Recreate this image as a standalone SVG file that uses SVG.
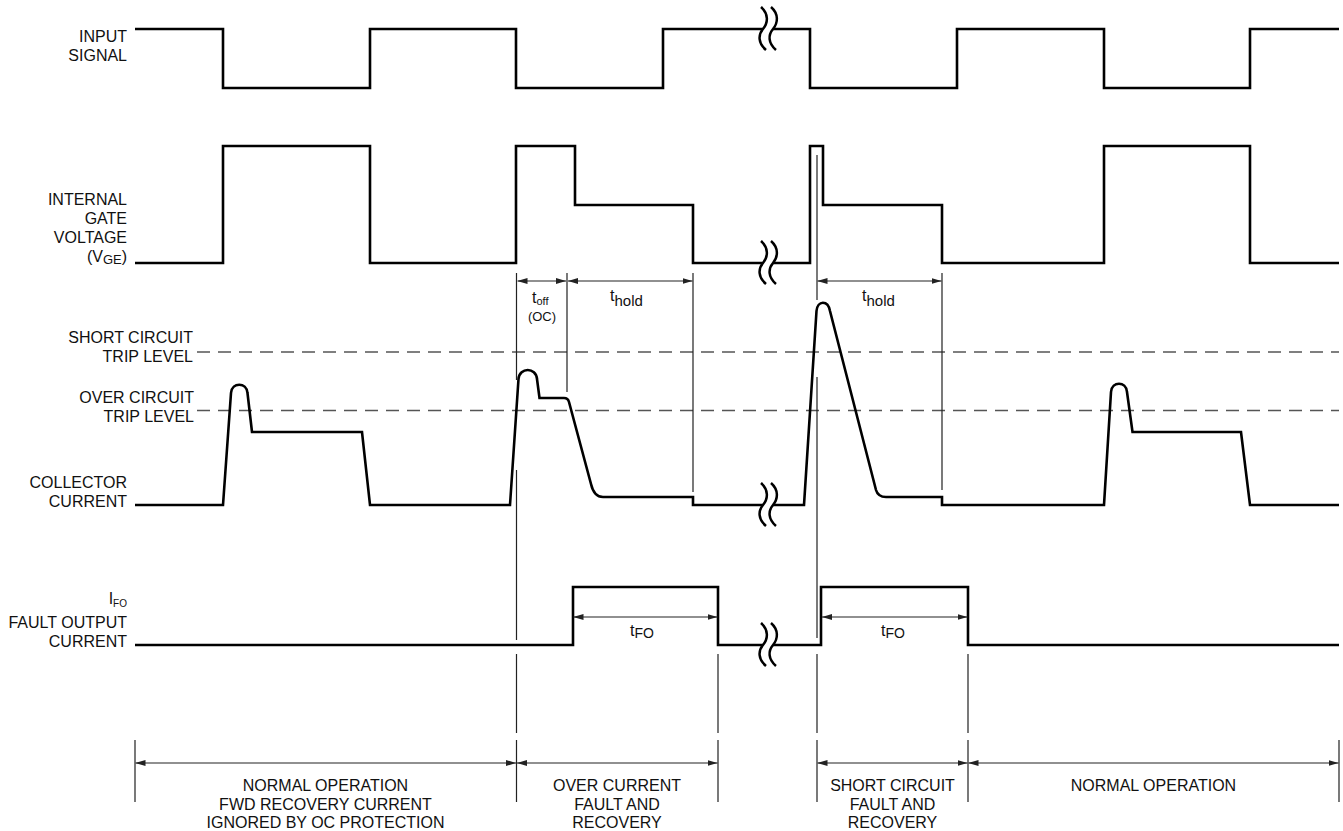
<svg xmlns="http://www.w3.org/2000/svg" width="1343" height="831" viewBox="0 0 1343 831">
<style>
.sig{fill:none;stroke:#000;stroke-width:2.6;stroke-linejoin:miter}
.thin{fill:none;stroke:#222;stroke-width:1.2}
.dash{fill:none;stroke:#555;stroke-width:1.6;stroke-dasharray:13 8}
.dim{fill:none;stroke:#222;stroke-width:1.2;marker-start:url(#ah);marker-end:url(#ah)}
text{font-family:"Liberation Sans",Arial,sans-serif;font-size:16px;fill:#111}
.r{text-anchor:end}
.c{text-anchor:middle}
</style>
<defs>
<marker id="ah" viewBox="0 0 10 6" refX="10" refY="3" markerWidth="10" markerHeight="6" markerUnits="userSpaceOnUse" orient="auto-start-reverse">
<path d="M0,0 L10,3 L0,6 z" fill="#222"/>
</marker>
<g id="brk">
<path d="M-8,-22 C0,-15 -1,-6 -6,0 C-11,6 -11,14 -3,21 L7,21 C-1,14 -1,6 4,0 C9,-6 10,-15 2,-22 Z" fill="#fff" stroke="none"/>
<path d="M-8,-22 C0,-15 -1,-6 -6,0 C-11,6 -11,14 -3,21" fill="none" stroke="#000" stroke-width="2.5"/>
<path d="M2,-22 C10,-15 9,-6 4,0 C-1,6 -1,14 7,21" fill="none" stroke="#000" stroke-width="2.5"/>
</g>
</defs>

<g id="input-signal">
<text class="r" x="127" y="42">INPUT</text>
<text class="r" x="127" y="61">SIGNAL</text>
<path class="sig" d="M135,29 L223,29 L223,88 L370,88 L370,29 L516,29 L516,88 L663,88 L663,29 L810,29 L810,88 L957,88 L957,29 L1104,29 L1104,88 L1250,88 L1250,29 L1339,29"/>
<use href="#brk" transform="translate(769,29)"/>
</g>

<g id="gate-voltage">
<text class="r" x="127" y="205">INTERNAL</text>
<text class="r" x="127" y="224">GATE</text>
<text class="r" x="127" y="243">VOLTAGE</text>
<text class="r" x="127" y="262">(V<tspan font-size="13" dy="2">GE</tspan><tspan dy="-2">)</tspan></text>
<path class="sig" d="M135,263 L223,263 L223,146 L370,146 L370,263 L516,263 L516,146 L575,146 L575,205 L693,205 L693,263 L810,263 L810,146 L823,146 L823,205 L942,205 L942,263 L1104,263 L1104,146 L1250,146 L1250,263 L1339,263"/>
<use href="#brk" transform="translate(769,263)"/>
</g>

<g id="trip-levels">
<text class="r" x="193" y="343">SHORT CIRCUIT</text>
<text class="r" x="193" y="362">TRIP LEVEL</text>
<line class="dash" x1="197" y1="352" x2="1339" y2="352"/>
<text class="r" x="194" y="403">OVER CIRCUIT</text>
<text class="r" x="194" y="422">TRIP LEVEL</text>
<line class="dash" x1="197" y1="410.5" x2="1339" y2="410.5"/>
</g>

<g id="collector-current">
<text class="r" x="127" y="488">COLLECTOR</text>
<text class="r" x="127" y="507">CURRENT</text>
<path class="sig" d="M135,505 L223,505 L231,393 C232,382 246.5,382 247.5,393 L252,432 L362,432 L370,505 L510,505 L518.5,379 C519.5,367 536,367 537,379 L539.5,398 L564,398 Q568,398 569,402 L591,484 Q594,497 603,497 L693,497 L693,505 L804,505 L816.5,311 C817.5,300 828,300 830,311 L876,490 Q878,497 886,497 L942,497 L942,505 L1104,505 L1111,392 C1112,381 1126,381 1127,392 L1132.5,432 L1241,432 L1250,505 L1339,505"/>
<use href="#brk" transform="translate(769,505)"/>
</g>

<g id="fault-output">
<text class="r" x="127" y="604">I<tspan font-size="10" dy="3">FO</tspan></text>
<text class="r" x="127" y="628">FAULT OUTPUT</text>
<text class="r" x="127" y="647">CURRENT</text>
<path class="sig" d="M135,645 L573,645 L573,587 L718,587 L718,645 L821,645 L821,587 L968,587 L968,645 L1339,645"/>
<use href="#brk" transform="translate(769,645)"/>
</g>

<g id="connectors">
<path class="thin" d="M516.5,273 V380 M516.5,470 V640 M516.5,654 V733 M516.5,740 V802
M567,273 V392 M693,273 V492
M817,155 V300 M817,377 V638 M817,654 V733 M817,740 V802
M942,273 V490
M718,654 V733 M718,740 V802
M968,654 V733 M968,740 V802
M135,740 V802 M1339,740 V802"/>
<line class="dim" x1="517.5" y1="281" x2="566" y2="281"/>
<line class="dim" x1="568" y1="281" x2="692.5" y2="281"/>
<line class="dim" x1="817.5" y1="281" x2="941.5" y2="281"/>
<line class="dim" x1="573.5" y1="617" x2="717.5" y2="617"/>
<line class="dim" x1="822" y1="617" x2="967.5" y2="617"/>
<line class="dim" x1="135.5" y1="763" x2="516" y2="763"/>
<line class="dim" x1="517" y1="763" x2="717.5" y2="763"/>
<line class="dim" x1="817.5" y1="763" x2="967.5" y2="763"/>
<line class="dim" x1="968.5" y1="763" x2="1338.5" y2="763"/>
</g>

<g id="time-labels">
<text x="532" y="303">t<tspan font-size="11" dy="2">off</tspan></text>
<text class="c" x="542" y="321" font-size="13" style="font-size:13px">(OC)</text>
<text x="610" y="301">t<tspan font-size="15" dy="5">hold</tspan></text>
<text x="862" y="301">t<tspan font-size="15" dy="5">hold</tspan></text>
<text x="630" y="636">t<tspan font-size="14" dy="2">FO</tspan></text>
<text x="881" y="636">t<tspan font-size="14" dy="2">FO</tspan></text>
</g>

<g id="phase-labels">
<text class="c" x="325.5" y="791">NORMAL OPERATION</text>
<text class="c" x="325.5" y="810">FWD RECOVERY CURRENT</text>
<text class="c" x="325.5" y="828">IGNORED BY OC PROTECTION</text>
<text class="c" x="617" y="791">OVER CURRENT</text>
<text class="c" x="617" y="810">FAULT AND</text>
<text class="c" x="617" y="828">RECOVERY</text>
<text class="c" x="892.5" y="791">SHORT CIRCUIT</text>
<text class="c" x="892.5" y="810">FAULT AND</text>
<text class="c" x="892.5" y="828">RECOVERY</text>
<text class="c" x="1153.5" y="791">NORMAL OPERATION</text>
</g>
</svg>
